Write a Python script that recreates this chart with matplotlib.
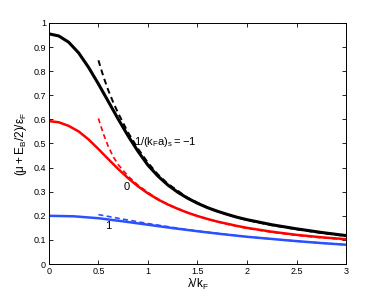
import matplotlib
matplotlib.use('Agg')
import matplotlib.pyplot as plt

plt.rcParams['font.family'] = ['Liberation Sans', 'DejaVu Sans']
plt.rcParams['mathtext.fontset'] = 'custom'
plt.rcParams['mathtext.rm'] = 'Liberation Sans'
plt.rcParams['mathtext.it'] = 'Liberation Sans'

# solid curves (full calculation)
lam = [0, 0.1, 0.2, 0.3, 0.4, 0.5, 0.6, 0.7, 0.8, 0.9, 1.0,
       1.1, 1.2, 1.3, 1.4, 1.5, 1.6, 1.7, 1.8, 1.9, 2.0,
       2.25, 2.5, 2.75, 3.0]
black = [0.955, 0.946, 0.92, 0.876, 0.816, 0.747, 0.674, 0.601, 0.531, 0.467, 0.41,
         0.365, 0.328, 0.298, 0.273, 0.252, 0.234, 0.219, 0.206, 0.194, 0.184,
         0.163, 0.146, 0.131, 0.118]
red = [0.593, 0.588, 0.573, 0.55, 0.517, 0.477, 0.435, 0.394, 0.356, 0.322, 0.293,
       0.268, 0.247, 0.229, 0.213, 0.199, 0.187, 0.176, 0.167, 0.158, 0.150,
       0.134, 0.121, 0.111, 0.103]

lam_b = [0, 0.25, 0.5, 0.75, 1.0, 1.25, 1.5, 1.75, 2.0, 2.25, 2.5, 2.75, 3.0]
blue = [0.200, 0.198, 0.190, 0.177, 0.163, 0.149, 0.136, 0.124, 0.113, 0.104,
        0.095, 0.087, 0.080]

# dashed curves (large lambda approximation)
lam_d = [0.5, 0.55, 0.6, 0.65, 0.7, 0.8, 0.9, 1.0, 1.1, 1.2, 1.4, 1.6, 1.8, 2.0,
         2.25, 2.5, 2.75, 3.0]
black_d = [0.845, 0.778, 0.72, 0.67, 0.625, 0.545, 0.478, 0.42, 0.372, 0.333, 0.275,
           0.234, 0.205, 0.182, 0.161, 0.144, 0.129, 0.116]
red_d = [0.604, 0.54, 0.487, 0.445, 0.412, 0.364, 0.327, 0.297, 0.27, 0.248, 0.213,
         0.186, 0.165, 0.148, 0.132, 0.119, 0.109, 0.101]
lam_bd = [0.5, 0.75, 1.0, 1.25, 1.5, 1.75, 2.0, 2.25, 2.5, 2.75, 3.0]
blue_d = [0.205, 0.186, 0.168, 0.152, 0.137, 0.125, 0.113, 0.104, 0.095, 0.087, 0.080]

fig = plt.figure(figsize=(3.82, 2.98), dpi=100)
ax = fig.add_axes([0.128, 0.114, 0.778, 0.809])

ax.plot(lam, black, color='black', lw=2.2)
ax.plot(lam, red, color='#ff0000', lw=1.8)
ax.plot(lam_b, blue, color='#2b50ff', lw=1.8)
ax.plot(lam_d, black_d, color='black', lw=1.4, ls=(0, (3, 2)))
ax.plot(lam_d, red_d, color='#ff0000', lw=1.2, ls=(0, (3, 2)))
ax.plot(lam_bd, blue_d, color='#2b50ff', lw=1.2, ls=(0, (3, 2)))

ax.text(0.86, 0.505, r'$\mathregular{1/(k_Fa)_s = -1}$', fontsize=8, va='center')
ax.text(0.79, 0.32, '0', fontsize=8, va='center', ha='center')
ax.text(0.60, 0.158, '1', fontsize=8, va='center', ha='center')

ax.set_xlim(0, 3)
ax.set_ylim(0, 1)
ax.set_xticks([0, 0.5, 1, 1.5, 2, 2.5, 3])
ax.set_xticklabels(['0', '0.5', '1', '1.5', '2', '2.5', '3'])
ax.set_yticks([0, 0.1, 0.2, 0.3, 0.4, 0.5, 0.6, 0.7, 0.8, 0.9, 1])
ax.set_yticklabels(['0', '0.1', '0.2', '0.3', '0.4', '0.5', '0.6', '0.7', '0.8', '0.9', '1'])
ax.tick_params(direction='in', top=True, right=True, labelsize=6.5, length=3, width=0.6, pad=2)
for s in ax.spines.values():
    s.set_linewidth(0.7)

ax.set_xlabel(r'$\mathregular{\lambda/k_F}$', fontsize=8.5, labelpad=1)
ax.set_ylabel(r'$\mathregular{(\mu+E_B/2)/\varepsilon_F}$', fontsize=8.5, labelpad=3)

fig.savefig('out.png', dpi=100)
